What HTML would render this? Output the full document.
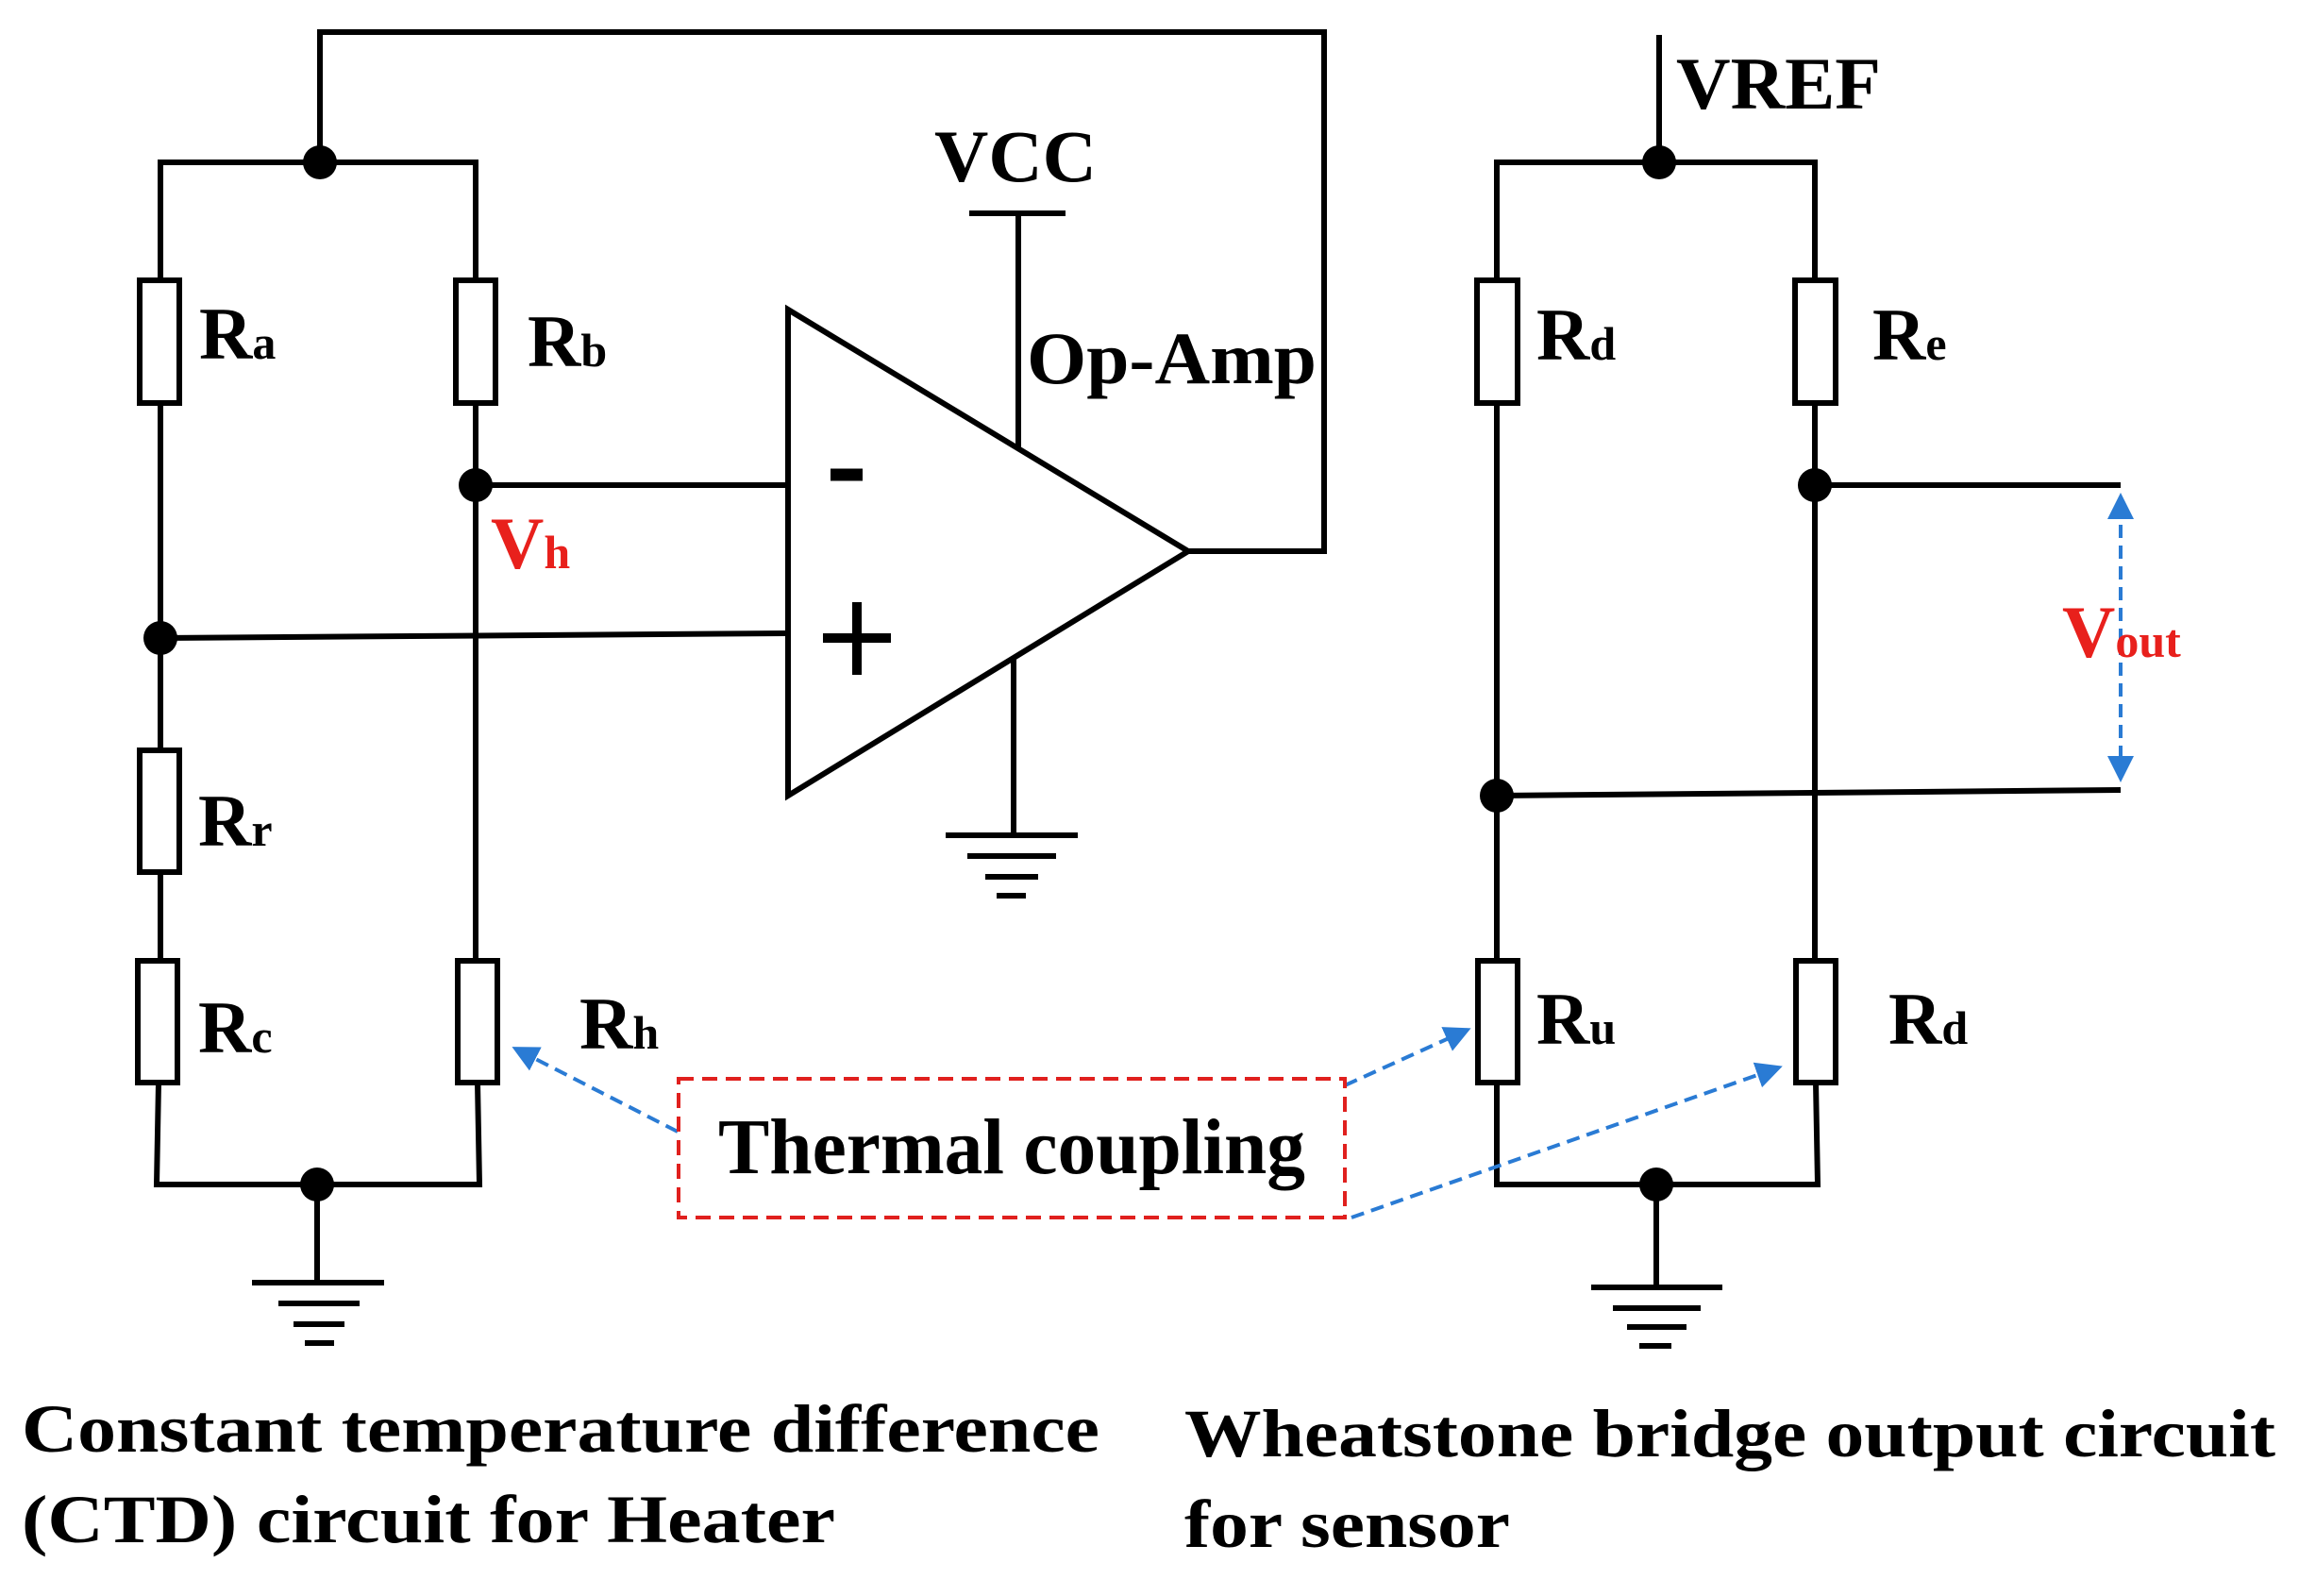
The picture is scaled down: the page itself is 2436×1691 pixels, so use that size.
<!DOCTYPE html>
<html><head><meta charset="utf-8"><style>html,body{margin:0;padding:0;background:#fff}svg{display:block}</style></head>
<body>
<svg width="2436" height="1691" viewBox="0 0 2436 1691" xmlns="http://www.w3.org/2000/svg" font-family="Liberation Serif, serif" font-weight="bold">
<defs>
<marker id="ah" markerWidth="8" markerHeight="8" refX="6" refY="4" orient="auto" markerUnits="strokeWidth"><path d="M0,0.5 L7,4 L0,7.5 Z" fill="#2a7bd4"/></marker>
</defs>
<g stroke="#000" stroke-width="6" fill="none">
<polyline points="339,172 339,34 1403,34 1403,584 1259,584"/>
<polyline points="170,297 170,172 504,172 504,297"/>
<line x1="170" y1="427" x2="170" y2="795"/>
<line x1="170" y1="924" x2="170" y2="1018"/>
<polyline points="168,1147 166,1255 508,1255 506,1147"/>
<line x1="504" y1="427" x2="504" y2="1018"/>
<rect x="148" y="297" width="42" height="130" fill="#fff"/>
<rect x="483" y="297" width="42" height="130" fill="#fff"/>
<rect x="148" y="795" width="42" height="129" fill="#fff"/>
<rect x="146" y="1018" width="42" height="129" fill="#fff"/>
<rect x="485" y="1018" width="42" height="129" fill="#fff"/>
<line x1="504" y1="514" x2="835" y2="514"/>
<line x1="170" y1="676" x2="835" y2="671"/>
<polygon points="835,328 1259,584 835,843"/>
<line x1="1079" y1="226" x2="1079" y2="475"/>
<line x1="1027" y1="226" x2="1129" y2="226"/>
<line x1="1074" y1="697" x2="1074" y2="885"/>
<line x1="1002" y1="885" x2="1142" y2="885"/>
<line x1="1025" y1="907" x2="1119" y2="907"/>
<line x1="1044" y1="929" x2="1100" y2="929"/>
<line x1="1056" y1="949" x2="1087" y2="949"/>
<line x1="336" y1="1255" x2="336" y2="1359"/>
<line x1="267" y1="1359" x2="407" y2="1359"/>
<line x1="295" y1="1381" x2="381" y2="1381"/>
<line x1="311" y1="1403" x2="365" y2="1403"/>
<line x1="323" y1="1423" x2="354" y2="1423"/>
<line x1="880" y1="503" x2="914" y2="503" stroke-width="13"/>
<line x1="872" y1="676" x2="944" y2="676" stroke-width="10"/>
<line x1="908" y1="638" x2="908" y2="715" stroke-width="10"/>
<line x1="1758" y1="37" x2="1758" y2="172"/>
<polyline points="1586,297 1586,172 1923,172 1923,297"/>
<line x1="1586" y1="427" x2="1586" y2="1018"/>
<line x1="1923" y1="427" x2="1923" y2="1018"/>
<polyline points="1586,1147 1586,1255 1926,1255 1924,1147"/>
<rect x="1565" y="297" width="43" height="130" fill="#fff"/>
<rect x="1902" y="297" width="43" height="130" fill="#fff"/>
<rect x="1566" y="1018" width="42" height="129" fill="#fff"/>
<rect x="1903" y="1018" width="42" height="129" fill="#fff"/>
<line x1="1923" y1="514" x2="2247" y2="514"/>
<line x1="1586" y1="843" x2="2247" y2="837"/>
<line x1="1755" y1="1255" x2="1755" y2="1364"/>
<line x1="1686" y1="1364" x2="1825" y2="1364"/>
<line x1="1709" y1="1386" x2="1802" y2="1386"/>
<line x1="1724" y1="1406" x2="1787" y2="1406"/>
<line x1="1737" y1="1426" x2="1771" y2="1426"/>
</g>
<g fill="#000">
<circle cx="339" cy="172" r="18"/>
<circle cx="504" cy="514" r="18"/>
<circle cx="170" cy="676" r="18"/>
<circle cx="336" cy="1255" r="18"/>
<circle cx="1758" cy="172" r="18"/>
<circle cx="1923" cy="514" r="18"/>
<circle cx="1586" cy="843" r="18"/>
<circle cx="1755" cy="1255" r="18"/>
</g>
<g stroke="#2a7bd4" stroke-width="4" stroke-dasharray="14,8" fill="none" marker-end="url(#ah)">
<line x1="2247" y1="680" x2="2247" y2="526"/>
<line x1="2247" y1="680" x2="2247" y2="825"/>
<line x1="718" y1="1199" x2="546" y2="1111"/>
<line x1="1425" y1="1150" x2="1555" y2="1091"/>
<line x1="1432" y1="1290" x2="1885" y2="1131"/>
</g>
<rect x="719" y="1143" width="706" height="147" fill="none" stroke="#e0201e" stroke-width="4" stroke-dasharray="16,9"/>
<g fill="#000" font-size="78">
<text x="990" y="192" textLength="172" lengthAdjust="spacingAndGlyphs">VCC</text>
<text x="1088" y="406" textLength="307" lengthAdjust="spacingAndGlyphs">Op-Amp</text>
<text x="1776" y="115" textLength="217" lengthAdjust="spacingAndGlyphs">VREF</text>
<text x="211" y="380">R<tspan font-size="50">a</tspan></text>
<text x="559" y="388">R<tspan font-size="50">b</tspan></text>
<text x="210" y="896">R<tspan font-size="50">r</tspan></text>
<text x="210" y="1115">R<tspan font-size="50">c</tspan></text>
<text x="614" y="1111">R<tspan font-size="50">h</tspan></text>
<text x="1628" y="381">R<tspan font-size="50">d</tspan></text>
<text x="1984" y="381">R<tspan font-size="50">e</tspan></text>
<text x="1628" y="1106">R<tspan font-size="50">u</tspan></text>
<text x="2001" y="1106">R<tspan font-size="50">d</tspan></text>
</g>
<text x="520" y="602" fill="#e8201c" font-size="78">V<tspan font-size="50">h</tspan></text>
<text x="2185" y="696" fill="#e8201c" font-size="78">V<tspan font-size="50">out</tspan></text>
<text x="761" y="1243" font-size="84" textLength="622" lengthAdjust="spacingAndGlyphs">Thermal coupling</text>
<g font-size="72">
<text x="23" y="1538" textLength="1142" lengthAdjust="spacingAndGlyphs">Constant temperature difference</text>
<text x="23" y="1634" textLength="862" lengthAdjust="spacingAndGlyphs">(CTD) circuit for Heater</text>
<text x="1255" y="1543" textLength="1156" lengthAdjust="spacingAndGlyphs">Wheatstone bridge output circuit</text>
<text x="1255" y="1639" textLength="345" lengthAdjust="spacingAndGlyphs">for sensor</text>
</g>
</svg>
</body></html>
